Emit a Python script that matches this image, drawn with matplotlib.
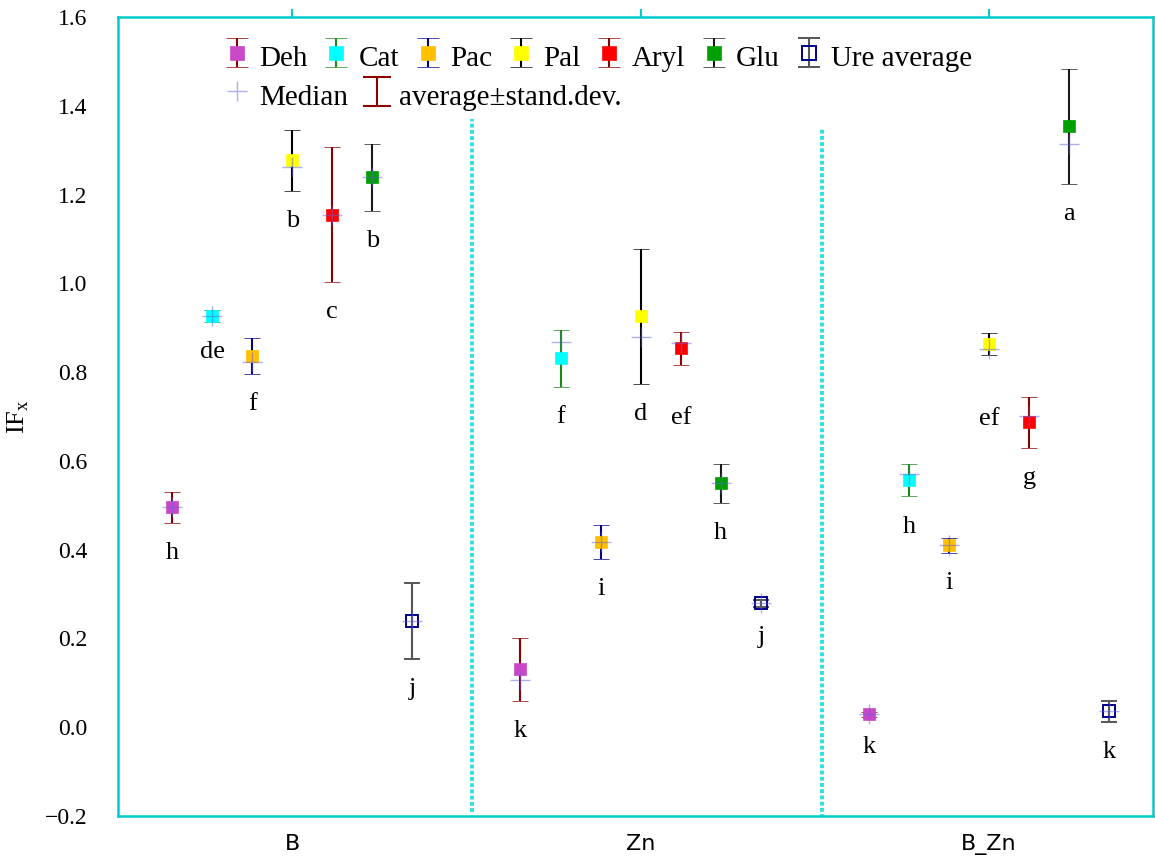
import numpy as np
import matplotlib
matplotlib.use('Agg')
import matplotlib.pyplot as plt

'''
Datos: IF_x por tratamiento (B, Zn, B_Zn) y enzima
'''
groups = ['B', 'Zn', 'B_Zn']
enzymes = ['Deh', 'Cat', 'Pac', 'Pal', 'Aryl', 'Glu', 'Ure average']

# medias
avg_B = [0.495, 0.926, 0.836, 1.277, 1.155, 1.239, 0.239]
avg_Zn = [0.131, 0.831, 0.417, 0.926, 0.854, 0.550, 0.279]
avg_BZn = [0.029, 0.556, 0.410, 0.863, 0.687, 1.354, 0.036]

# desviacion estandar
sd_B = [0.035, 0.013, 0.041, 0.068, 0.152, 0.075, 0.086]
sd_Zn = [0.071, 0.065, 0.038, 0.152, 0.037, 0.044, 0.008]
sd_BZn = [0.005, 0.036, 0.017, 0.025, 0.057, 0.130, 0.024]

# medianas
med_B = [0.495, 0.926, 0.822, 1.261, 1.155, 1.239, 0.239]
med_Zn = [0.106, 0.867, 0.417, 0.878, 0.865, 0.550, 0.279]
med_BZn = [0.029, 0.570, 0.410, 0.851, 0.700, 1.315, 0.036]

# letras del test
let_B = ['h', 'de', 'f', 'b', 'c', 'b', 'j']
let_Zn = ['k', 'f', 'i', 'd', 'ef', 'h', 'j']
let_BZn = ['k', 'h', 'i', 'ef', 'g', 'a', 'k']

avg = np.array([avg_B, avg_Zn, avg_BZn])
sd = np.array([sd_B, sd_Zn, sd_BZn])
med = np.array([med_B, med_Zn, med_BZn])
letters = [let_B, let_Zn, let_BZn]

face = ['#C848C8', '#00FFFF', '#FFC000', '#FFFF00', '#FF0000', '#00A000', 'none']
edge = ['#C848C8', '#00FFFF', '#FFC000', '#FFFF00', '#FF0000', '#00A000', '#00008B']
ecol = ['#8B0000', '#1A8A1A', '#00008B', '#000000', '#8B0000', '#1A1A1A', '#555555']
cyan = '#00CCCC'
serif = ['Liberation Serif', 'DejaVu Serif']

fig = plt.figure(figsize=(11.55, 8.6), dpi=100)
ax = fig.add_axes([0.1022, 0.0512, 0.896, 0.929])

xg = np.arange(len(groups))
step = 0.115

handles = []
for i, name in enumerate(enzymes):
    xs = xg + (i - 3) * step
    ax.errorbar(xs, avg[:, i], yerr=sd[:, i], fmt='s', ms=8.5,
                mfc=face[i], mec=edge[i], mew=1.4 if i == 6 else 0.5,
                ecolor=ecol[i], elinewidth=1.5, capsize=6, capthick=1.5, zorder=3)
    ax.plot(xs, med[:, i], '+', color='#6060E0', alpha=0.5, ms=14, mew=1.0, zorder=4)
    # handle para la leyenda
    handles.append(ax.errorbar([np.nan], [np.nan], yerr=[np.nan], fmt='s', ms=10,
                               mfc=face[i], mec=edge[i], mew=1.4 if i == 6 else 0.5,
                               ecolor=ecol[i], elinewidth=1.5, capsize=8, capthick=1.5))
    # letras debajo de la barra de error
    for g in range(len(groups)):
        dy = -26
        if letters[g][i] == 'ef':
            dy = -43 if g == 1 else -50
        ax.annotate(letters[g][i], (xs[g], avg[g, i] - sd[g, i]), xytext=(0, dy),
                    textcoords='offset points', ha='center', va='baseline',
                    fontsize=19, family=serif)

# separadores
ax.vlines(0.515, -0.19, 1.37, colors='#30E0E0', linestyles=(0, (1, 0.6)), lw=2.8)
ax.vlines(1.52, -0.205, 1.35, colors='#30E0E0', linestyles=(0, (1, 0.6)), lw=2.8)

ax.set_xlim(-0.5, 2.47)
ax.set_ylim(-0.2, 1.6)
ax.set_xticks(xg)
ax.set_xticklabels(groups, fontsize=16)
yt = np.arange(-0.2, 1.61, 0.2)
ax.set_yticks(yt)
ax.set_yticklabels([('%.1f' % v).replace('-', '\u2212') for v in yt], family=serif, fontsize=17)
ax.tick_params(axis='x', bottom=False, top=True, labelbottom=True, direction='out',
               length=6, width=1.5, color=cyan, pad=7)
ax.tick_params(axis='y', length=0, pad=22)
for s in ax.spines.values():
    s.set_color(cyan)
    s.set_linewidth(1.8)

ax.set_ylabel('IF$_\\mathregular{x}$', family=serif, fontsize=19, labelpad=10)

leg1 = ax.legend(handles, enzymes, ncol=7, loc='upper left', bbox_to_anchor=(0.18, 0.975),
                 bbox_transform=fig.transFigure, frameon=False,
                 prop={'family': serif, 'size': 21}, handlelength=0.8, handleheight=1.5,
                 handletextpad=0.35, columnspacing=0.6, borderpad=0.1, labelspacing=0.2)
ax.add_artist(leg1)

mh, = ax.plot([np.nan], [np.nan], '+', color='#6060E0', alpha=0.5, ms=14, mew=1.0)
eh = ax.errorbar([np.nan], [np.nan], yerr=[np.nan], fmt='none', ecolor='#8B0000',
                 elinewidth=1.5, capsize=10, capthick=1.5)
ax.legend([mh, eh], ['Median', 'average\u00b1stand.dev.'], ncol=2, loc='upper left',
          bbox_to_anchor=(0.18, 0.93), bbox_transform=fig.transFigure, frameon=False,
          prop={'family': serif, 'size': 21}, handlelength=0.8, handleheight=1.5,
          handletextpad=0.35, columnspacing=0.6, borderpad=0.1)

fig.savefig('out.png', dpi=100)
